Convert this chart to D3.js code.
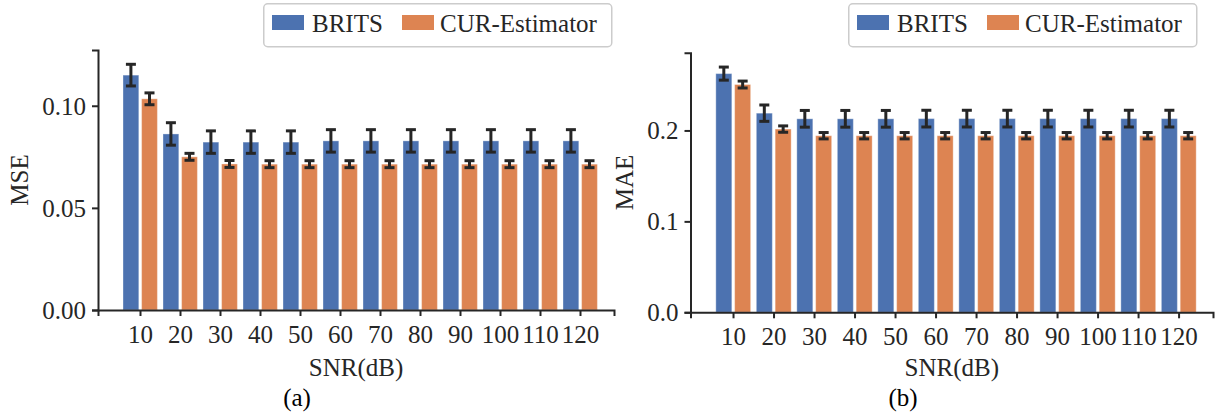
<!DOCTYPE html>
<html>
<head>
<meta charset="utf-8">
<script src="https://cdn.jsdelivr.net/npm/d3@7"></script>
<style>
  body { margin: 0; background: #fff; }
  svg { display: block; font-family: "Liberation Serif", "Times New Roman", "DejaVu Serif", serif; }
</style>
</head>
<body>
<svg id="chart" width="1217" height="416"></svg>
<script>
// ── Data ──────────────────────────────────────────────────────────────────────
const snr = [10, 20, 30, 40, 50, 60, 70, 80, 90, 100, 110, 120];
const series = ['BRITS', 'CUR-Estimator'];

const mseBrits    = [0.1150, 0.0862, 0.0822, 0.0822, 0.0822, 0.0828, 0.0828, 0.0828, 0.0828, 0.0828, 0.0828, 0.0828];
const mseBritsErr = [0.0053, 0.0055, 0.0055, 0.0055, 0.0055, 0.0055, 0.0055, 0.0055, 0.0055, 0.0055, 0.0055, 0.0055];
const mseCur      = [0.1034, 0.0750, 0.0715, 0.0714, 0.0714, 0.0714, 0.0714, 0.0714, 0.0714, 0.0714, 0.0714, 0.0714];
const mseCurErr   = [0.0029, 0.0017, 0.0017, 0.0017, 0.0017, 0.0017, 0.0017, 0.0017, 0.0017, 0.0017, 0.0017, 0.0017];

const maeBrits    = [0.2625, 0.2190, 0.2128, 0.2128, 0.2128, 0.2130, 0.2130, 0.2130, 0.2130, 0.2130, 0.2130, 0.2130];
const maeBritsErr = [0.0072, 0.0090, 0.0092, 0.0092, 0.0092, 0.0092, 0.0092, 0.0092, 0.0092, 0.0092, 0.0092, 0.0092];
const maeCur      = [0.2505, 0.2015, 0.1942, 0.1942, 0.1942, 0.1942, 0.1942, 0.1942, 0.1942, 0.1942, 0.1942, 0.1942];
const maeCurErr   = [0.0038, 0.0035, 0.0035, 0.0035, 0.0035, 0.0035, 0.0035, 0.0035, 0.0035, 0.0035, 0.0035, 0.0035];

const msTicks = [0.00, 0.05, 0.10];
const maTicks = [0.0, 0.1, 0.2];

const colors = { 'BRITS': '#4c72b0', 'CUR-Estimator': '#dd8452' };
const ink = '#262626';
const serif = '"Liberation Serif", "Times New Roman", "DejaVu Serif", serif';

// ── Panel ─────────────────────────────────────────────────────────────────────
const svg = d3.select('#chart');

function panel(opt) {
  const { left, top, bottom, width, yMax, ticks, fmt, vals, errs, ylabel, caption, legendX } = opt;
  const g = svg.append('g');

  const x = d3.scaleLinear().domain([-0.5, 128.5]).range([left, left + width]);
  const y = d3.scaleLinear().domain([0, yMax]).range([bottom, top]);
  const inner = d3.scaleBand().domain(series).range([-4.25, 4.35]).paddingInner(0.15);

  // bars
  series.forEach((s, k) => {
    const v = vals[k], e = errs[k];
    g.append('g').selectAll('rect')
      .data(snr)
      .join('rect')
      .attr('x', (d) => x(d + inner(s)))
      .attr('width', (d) => x(d + inner(s) + inner.bandwidth()) - x(d + inner(s)))
      .attr('y', (d, i) => y(v[i]))
      .attr('height', (d, i) => y(0) - y(v[i]))
      .attr('fill', colors[s])
      .attr('stroke', '#fff')
      .attr('stroke-opacity', 0.35)
      .attr('stroke-width', 1);

    // error bars
    const eb = g.append('g').attr('stroke', ink).attr('stroke-width', 3);
    snr.forEach((d, i) => {
      const cx = x(d + inner(s) + inner.bandwidth() / 2);
      const y1 = y(v[i] + e[i]), y2 = y(v[i] - e[i]);
      eb.append('line').attr('x1', cx).attr('x2', cx).attr('y1', y1).attr('y2', y2);
      eb.append('line').attr('x1', cx - 5).attr('x2', cx + 5).attr('y1', y1).attr('y2', y1);
      eb.append('line').attr('x1', cx - 5).attr('x2', cx + 5).attr('y1', y2).attr('y2', y2);
    });
  });

  // axes
  const ax = g.append('g')
    .attr('transform', `translate(0,${bottom})`)
    .call(d3.axisBottom(x).tickValues(snr).tickSizeOuter(0).tickSize(6).tickPadding(9).tickFormat(d3.format('d')));
  const ay = g.append('g')
    .attr('transform', `translate(${left},0)`)
    .call(d3.axisLeft(y).tickValues(ticks).tickSizeOuter(0).tickSize(6).tickPadding(6).tickFormat(fmt));

  [ax, ay].forEach(a => {
    a.attr('font-family', serif);
    a.select('.domain').attr('stroke', ink).attr('stroke-width', 2);
    a.selectAll('.tick line').attr('stroke', ink).attr('stroke-width', 2);
    a.selectAll('.tick text').attr('fill', ink).attr('font-size', 25).attr('font-family', serif);
  });
  ay.selectAll('.tick text').attr('dy', '0.34em');

  // labels
  g.append('text')
    .attr('x', left + width / 2).attr('y', 376)
    .attr('text-anchor', 'middle').attr('font-size', 25).attr('fill', ink)
    .text('SNR(dB)');
  g.append('text')
    .attr('transform', `translate(${opt.ylabelX},${(top + bottom) / 2}) rotate(-90)`)
    .attr('text-anchor', 'middle').attr('font-size', 25).attr('fill', ink)
    .attr('dy', '0.35em')
    .text(ylabel);
  g.append('text')
    .attr('x', opt.captionX).attr('y', 406)
    .attr('text-anchor', 'middle').attr('font-size', 25).attr('fill', '#000')
    .text(caption);

  // legend
  const lg = g.append('g').attr('transform', `translate(${legendX},3)`);
  lg.append('rect')
    .attr('x', 0.75).attr('y', 0.75).attr('width', 348).attr('height', 43).attr('rx', 4)
    .attr('fill', '#fff').attr('stroke', '#cccccc').attr('stroke-width', 1.5);
  const items = [{ s: 'BRITS', px: 9, tx: 49 }, { s: 'CUR-Estimator', px: 139, tx: 177 }];
  items.forEach(it => {
    lg.append('rect').attr('x', it.px).attr('y', 12).attr('width', 32).attr('height', 15)
      .attr('fill', colors[it.s]);
    lg.append('text').attr('x', it.tx).attr('y', 29).attr('font-size', 25).attr('fill', ink)
      .text(it.s);
  });
}

panel({
  left: 98, top: 50, bottom: 310, width: 516, yMax: 0.1273,
  ticks: msTicks, fmt: d3.format('.2f'),
  vals: [mseBrits, mseCur], errs: [mseBritsErr, mseCurErr],
  ylabel: 'MSE', ylabelX: 19, caption: '(a)', captionX: 297, legendX: 263
});

panel({
  left: 690.5, top: 52.7, bottom: 312.3, width: 522.5, yMax: 0.2855,
  ticks: maTicks, fmt: d3.format('.1f'),
  vals: [maeBrits, maeCur], errs: [maeBritsErr, maeCurErr],
  ylabel: 'MAE', ylabelX: 624, caption: '(b)', captionX: 903, legendX: 848
});
</script>
</body>
</html>
